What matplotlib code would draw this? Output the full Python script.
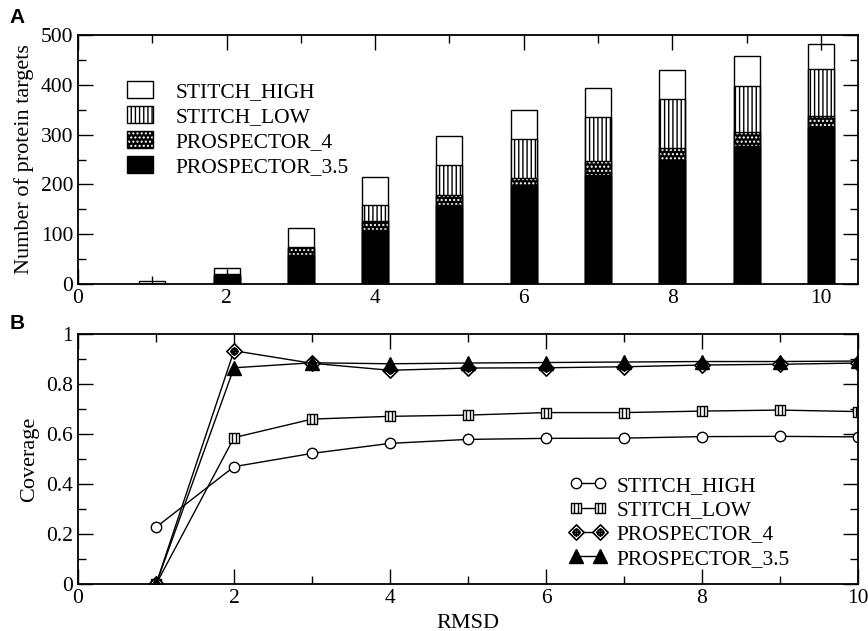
import matplotlib
matplotlib.use('Agg')
import matplotlib.pyplot as plt
import numpy as np
from matplotlib.path import Path
from matplotlib.patches import Patch
from matplotlib.ticker import MultipleLocator, FormatStrFormatter

# Data
rmsd = [1, 2, 3, 4, 5, 6, 7, 8, 9, 10]

# panel A: number of protein targets (cumulative, drawn overlaid)
targets_high = [7, 33, 113, 214, 297, 350, 393, 429, 458, 481]
targets_low = [0, 21, 75, 159, 239, 292, 335, 371, 397, 431]
targets_p4 = [0, 19, 73, 127, 179, 213, 247, 274, 306, 337]
targets_p35 = [0, 14, 59, 108, 159, 197, 219, 249, 278, 316]

# panel B: coverage
cov_high = [0.228, 0.47, 0.523, 0.563, 0.579, 0.583, 0.584, 0.59, 0.591, 0.589]
cov_low = [0.0, 0.586, 0.66, 0.671, 0.676, 0.686, 0.686, 0.692, 0.696, 0.69]
cov_p4 = [0.0, 0.933, 0.883, 0.855, 0.864, 0.865, 0.869, 0.876, 0.879, 0.884]
cov_p35 = [0.0, 0.865, 0.885, 0.881, 0.884, 0.886, 0.888, 0.89, 0.89, 0.892]

labels = ['STITCH_HIGH', 'STITCH_LOW', 'PROSPECTOR_4', 'PROSPECTOR_3.5']

plt.rcParams['font.family'] = ['Liberation Serif', 'DejaVu Serif']
plt.rcParams['hatch.linewidth'] = 1.0

fig = plt.figure(figsize=(8.68, 6.31), dpi=100)
ax1 = fig.add_axes([0.0899, 0.5499, 0.8986, 0.3946])
ax2 = fig.add_axes([0.0899, 0.0740, 0.8986, 0.3967])

# ---- Panel A: bars
w = 0.35
ax1.bar(rmsd, targets_high, width=w, color='white', edgecolor='black', linewidth=1)
ax1.bar(rmsd, targets_low, width=w, color='white', edgecolor='black', linewidth=1, hatch='||||')
ax1.bar(rmsd, targets_p4, width=w, color='black', edgecolor='white', linewidth=0, hatch='....')
ax1.bar(rmsd, targets_p4, width=w, fill=False, edgecolor='black', linewidth=1)
ax1.bar(rmsd, targets_p35, width=w, color='black', edgecolor='black', linewidth=1)

h_high = Patch(facecolor='white', edgecolor='black', linewidth=1)
h_low = Patch(facecolor='white', edgecolor='black', linewidth=1, hatch='||||')
h_p4 = (Patch(facecolor='black', edgecolor='white', linewidth=0, hatch='....'),
        Patch(fill=False, edgecolor='black', linewidth=1))
h_p35 = Patch(facecolor='black', edgecolor='black', linewidth=1)
ax1.legend([h_high, h_low, h_p4, h_p35], labels, loc='upper left',
           bbox_to_anchor=(0.063, 0.815), frameon=False, fontsize=15.5,
           handlelength=1.2, handleheight=0.8, handletextpad=1.05,
           labelspacing=0.2, borderpad=0, borderaxespad=0)

ax1.set_xlim(0, 10.5)
ax1.set_ylim(0, 500)
ax1.xaxis.set_major_locator(MultipleLocator(2))
ax1.xaxis.set_minor_locator(MultipleLocator(1))
ax1.yaxis.set_major_locator(MultipleLocator(100))
ax1.yaxis.set_minor_locator(MultipleLocator(50))
ax1.set_ylabel('Number of protein targets', fontsize=16, labelpad=5)

# ---- Panel B: coverage lines
diamond = Path([(0, 1), (1, 0), (0, -1), (-1, 0), (0, 1)],
               [Path.MOVETO, Path.LINETO, Path.LINETO, Path.LINETO, Path.CLOSEPOLY])
cross = Path([(-0.55, 0), (0.55, 0), (0, -0.55), (0, 0.55)],
             [Path.MOVETO, Path.LINETO, Path.MOVETO, Path.LINETO])
ring = Path.circle((0, 0), 0.4)
diamond_cross = Path.make_compound_path(diamond, ring, cross)

square = Path([(-1, -1), (1, -1), (1, 1), (-1, 1), (-1, -1)],
              [Path.MOVETO, Path.LINETO, Path.LINETO, Path.LINETO, Path.CLOSEPOLY])
vlines = Path([(-0.35, -1), (-0.35, 1), (0.35, -1), (0.35, 1)],
              [Path.MOVETO, Path.LINETO, Path.MOVETO, Path.LINETO])
square_lines = Path.make_compound_path(square, vlines)

ax2.plot(rmsd, cov_high, color='black', lw=1, marker='o', ms=7.5,
         mfc='white', mec='black', mew=1, label=labels[0])
ax2.plot(rmsd, cov_low, color='black', lw=1, marker=square_lines, ms=7,
         mfc='white', mec='black', mew=1, label=labels[1])
ax2.plot(rmsd, cov_p4, color='black', lw=1, marker=diamond_cross, ms=11,
         mfc='white', mec='black', mew=1.2, label=labels[2])
ax2.plot(rmsd, cov_p35, color='black', lw=1, marker='^', ms=10,
         mfc='black', mec='black', mew=1, label=labels[3])

ax2.legend(loc='lower right', bbox_to_anchor=(0.913, 0.062), frameon=False,
           fontsize=15.5, numpoints=2, handlelength=1.7, handletextpad=0.5,
           labelspacing=0.2, borderpad=0, borderaxespad=0)

ax2.set_xlim(0, 10)
ax2.set_ylim(0, 1)
ax2.xaxis.set_major_locator(MultipleLocator(2))
ax2.xaxis.set_minor_locator(MultipleLocator(1))
ax2.yaxis.set_major_locator(MultipleLocator(0.2))
ax2.yaxis.set_minor_locator(MultipleLocator(0.1))
ax2.yaxis.set_major_formatter(FormatStrFormatter('%g'))
ax2.set_ylabel('Coverage', fontsize=16, labelpad=5)
ax2.set_xlabel('RMSD', fontsize=16, labelpad=4)

for ax in (ax1, ax2):
    ax.tick_params(which='both', direction='in', top=True, right=True, labelsize=15.5)
    ax.tick_params(which='major', length=11, width=1)
    ax.tick_params(which='minor', length=6, width=1)
    for s in ax.spines.values():
        s.set_linewidth(1.3)

fig.text(0.011, 0.972, 'A', fontsize=15, fontweight='bold', family='Liberation Sans', va='center')
fig.text(0.011, 0.488, 'B', fontsize=15, fontweight='bold', family='Liberation Sans', va='center')

plt.savefig('out.png', dpi=100)
